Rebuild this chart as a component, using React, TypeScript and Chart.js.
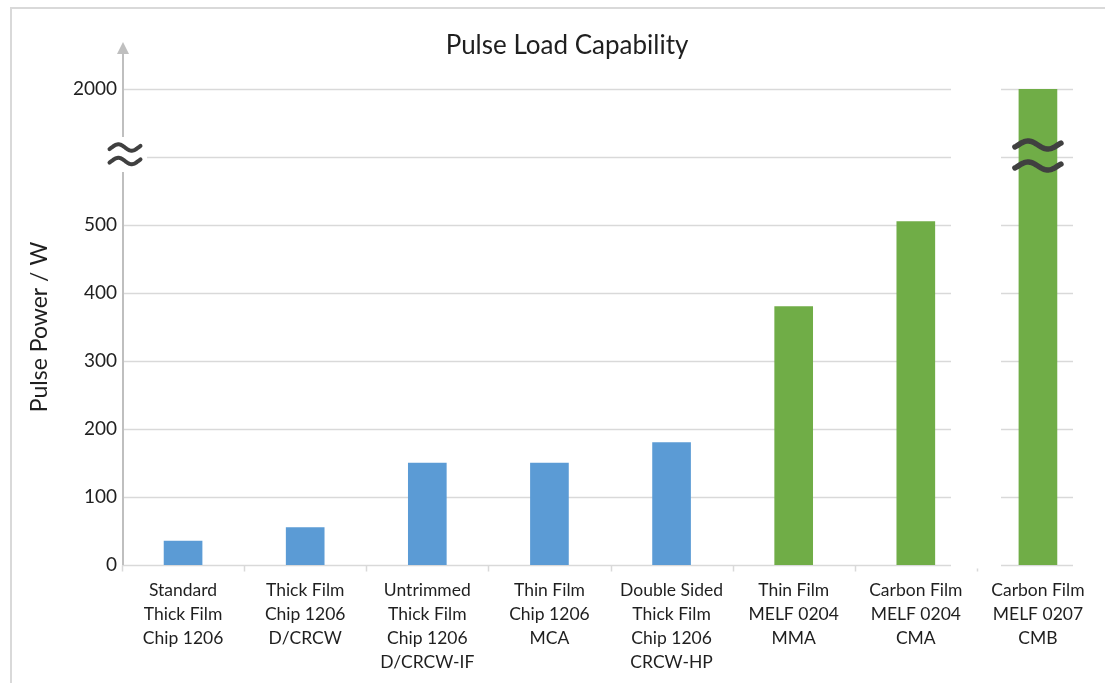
import React, { useEffect, useRef } from 'react';
import { Chart, registerables } from 'chart.js';

Chart.register(...registerables);

const chartTitle = 'Pulse Load Capability';
const yAxisTitle = 'Pulse Power / W';

const categories: string[][] = [
  ['Standard', 'Thick Film', 'Chip 1206'],
  ['Thick Film', 'Chip 1206', 'D/CRCW'],
  ['Untrimmed', 'Thick Film', 'Chip 1206', 'D/CRCW-IF'],
  ['Thin Film', 'Chip 1206', 'MCA'],
  ['Double Sided', 'Thick Film', 'Chip 1206', 'CRCW-HP'],
  ['Thin Film', 'MELF 0204', 'MMA'],
  ['Carbon Film', 'MELF 0204', 'CMA'],
  ['Carbon Film', 'MELF 0207', 'CMB'],
];

const pulsePower: number[] = [35, 55, 150, 150, 180, 380, 505, 2000];

const barColors: string[] = [
  '#5b9bd5', '#5b9bd5', '#5b9bd5', '#5b9bd5', '#5b9bd5',
  '#70ad47', '#70ad47', '#70ad47',
];

// Broken axis: linear up to breakStart, then compressed segment to breakTop
const breakStart = 600;
const breakTop = 2000;
const breakSpan = 100;
const yTickValues: number[] = [0, 100, 200, 300, 400, 500, 2000];

const toAxis = (v: number) =>
  v <= breakStart ? v : breakStart + ((v - breakStart) / (breakTop - breakStart)) * breakSpan;

const axisMax = toAxis(breakTop);

const textColor = '#1f1f1f';
const gridColor = '#d9d9d9';
const axisColor = '#bfbfbf';
const breakColor = '#404040';
const fontFamily = 'Lato, "Open Sans", sans-serif';

function drawTilde(ctx: CanvasRenderingContext2D, cx: number, cy: number, w: number, amp: number, lw: number) {
  ctx.save();
  ctx.strokeStyle = breakColor;
  ctx.lineWidth = lw;
  ctx.lineCap = 'round';
  ctx.lineJoin = 'round';
  ctx.beginPath();
  const n = 40;
  for (let i = 0; i <= n; i++) {
    const t = -0.08 + (1.16 * i) / n;
    const x = cx - w / 2 + (t + 0.08) / 1.16 * w;
    const y = cy - amp * Math.sin(2 * Math.PI * t);
    if (i === 0) ctx.moveTo(x, y);
    else ctx.lineTo(x, y);
  }
  ctx.stroke();
  ctx.restore();
}

const decorPlugin = {
  id: 'decor',
  beforeDatasetsDraw(chart: any) {
    const ctx: CanvasRenderingContext2D = chart.ctx;
    const xs = chart.scales.x;
    const ys = chart.scales.y;
    const area = chart.chartArea;
    const w = xs.getPixelForValue(1) - xs.getPixelForValue(0);
    const b7 = xs.getPixelForValue(6.5);
    const gapStart = Math.round(b7 - 0.21 * w);
    const gapEnd = Math.round(b7 + 0.2 * w);
    const gridRight = Math.round(xs.getPixelForValue(7) + 0.29 * w);
    ctx.save();
    ctx.strokeStyle = gridColor;
    ctx.lineWidth = 1.5;
    for (let v = 0; v <= axisMax; v += 100) {
      const y = Math.round(ys.getPixelForValue(v)) + 0.5;
      const x0 = v === breakStart ? area.left + 25 : area.left;
      ctx.beginPath();
      ctx.moveTo(x0, y);
      ctx.lineTo(gapStart, y);
      ctx.moveTo(gapEnd, y);
      ctx.lineTo(gridRight, y);
      ctx.stroke();
    }
    // category tick marks
    const y0 = Math.round(ys.getPixelForValue(0)) + 0.5;
    ctx.beginPath();
    for (let i = 0; i < 7; i++) {
      const x = Math.round(xs.getPixelForValue(i - 0.5)) + 0.5;
      ctx.moveTo(x, y0);
      ctx.lineTo(x, y0 + 6);
    }
    ctx.moveTo(Math.round(b7) + 0.5, y0 + 3);
    ctx.lineTo(Math.round(b7) + 0.5, y0 + 6);
    ctx.stroke();
    ctx.restore();
  },
  afterDatasetsDraw(chart: any) {
    const ctx: CanvasRenderingContext2D = chart.ctx;
    const xs = chart.scales.x;
    const ys = chart.scales.y;
    const area = chart.chartArea;
    const yb = ys.getPixelForValue(breakStart);
    const y0 = ys.getPixelForValue(0);
    const ax = area.left + 1;

    // frame
    ctx.save();
    ctx.strokeStyle = '#d9d9d9';
    ctx.lineWidth = 2;
    ctx.beginPath();
    ctx.moveTo(11, chart.height);
    ctx.lineTo(11, 8);
    ctx.lineTo(chart.width, 8);
    ctx.stroke();

    // y axis line with gap and arrow
    ctx.strokeStyle = axisColor;
    ctx.lineWidth = 2;
    ctx.beginPath();
    ctx.moveTo(ax, y0);
    ctx.lineTo(ax, yb + 15);
    ctx.moveTo(ax, yb - 20);
    ctx.lineTo(ax, 53);
    ctx.stroke();
    ctx.fillStyle = axisColor;
    ctx.beginPath();
    ctx.moveTo(ax, 42);
    ctx.lineTo(ax + 6, 54);
    ctx.lineTo(ax - 6, 54);
    ctx.closePath();
    ctx.fill();
    ctx.restore();

    // break symbols
    drawTilde(ctx, ax + 2, yb - 9.5, 31, 3.2, 4);
    drawTilde(ctx, ax + 2, yb + 4, 31, 3.2, 4);
    const bx = xs.getPixelForValue(7);
    drawTilde(ctx, bx, yb - 12, 46, 4, 5.5);
    drawTilde(ctx, bx, yb + 9, 46, 4, 5.5);

    // title
    ctx.save();
    ctx.fillStyle = textColor;
    ctx.font = '26px ' + fontFamily;
    ctx.textAlign = 'center';
    ctx.textBaseline = 'alphabetic';
    ctx.fillText(chartTitle, 567, 54);
    ctx.restore();
  },
};

export default function App() {
  const canvasRef = useRef<HTMLCanvasElement | null>(null);

  useEffect(() => {
    if (!canvasRef.current) return;
    const chart = new Chart(canvasRef.current, {
      type: 'bar',
      data: {
        labels: categories,
        datasets: [
          {
            data: pulsePower.map(toAxis),
            backgroundColor: barColors,
            borderWidth: 0,
            barThickness: 38,
          },
        ],
      },
      options: {
        animation: false,
        responsive: false,
        devicePixelRatio: 1,
        layout: { padding: { left: 0, right: 6, top: 89, bottom: 0 } },
        plugins: {
          legend: { display: false },
          title: { display: false },
          tooltip: { enabled: false },
        },
        scales: {
          x: {
            type: 'category',
            offset: true,
            grid: { display: false, drawTicks: false },
            border: { display: false },
            ticks: {
              color: textColor,
              font: { family: fontFamily, size: 17.5, lineHeight: 24 / 17.5 },
              padding: 13,
              maxRotation: 0,
              autoSkip: false,
            },
            afterFit: (scale: any) => {
              scale.height = 118;
            },
          },
          y: {
            type: 'linear',
            min: 0,
            max: axisMax,
            grid: { display: false, drawTicks: false },
            border: { display: false },
            ticks: {
              stepSize: 100,
              color: textColor,
              font: { family: fontFamily, size: 19 },
              padding: 5,
              callback: (value: any) => {
                const v = Number(value);
                const match = yTickValues.find((t) => Math.abs(toAxis(t) - v) < 1e-6);
                return match === undefined ? '' : String(match);
              },
            },
            title: {
              display: true,
              text: yAxisTitle,
              color: textColor,
              font: { family: fontFamily, size: 23 },
              padding: { top: 26, bottom: 0 },
            },
            afterFit: (scale: any) => {
              scale.width = 122;
            },
          },
        },
      },
      plugins: [decorPlugin],
    });
    return () => chart.destroy();
  }, []);

  return (
    <div style={{ position: 'absolute', left: 0, top: 0, width: 1105, height: 683, background: '#ffffff' }}>
      <canvas ref={canvasRef} width={1105} height={683} />
    </div>
  );
}
